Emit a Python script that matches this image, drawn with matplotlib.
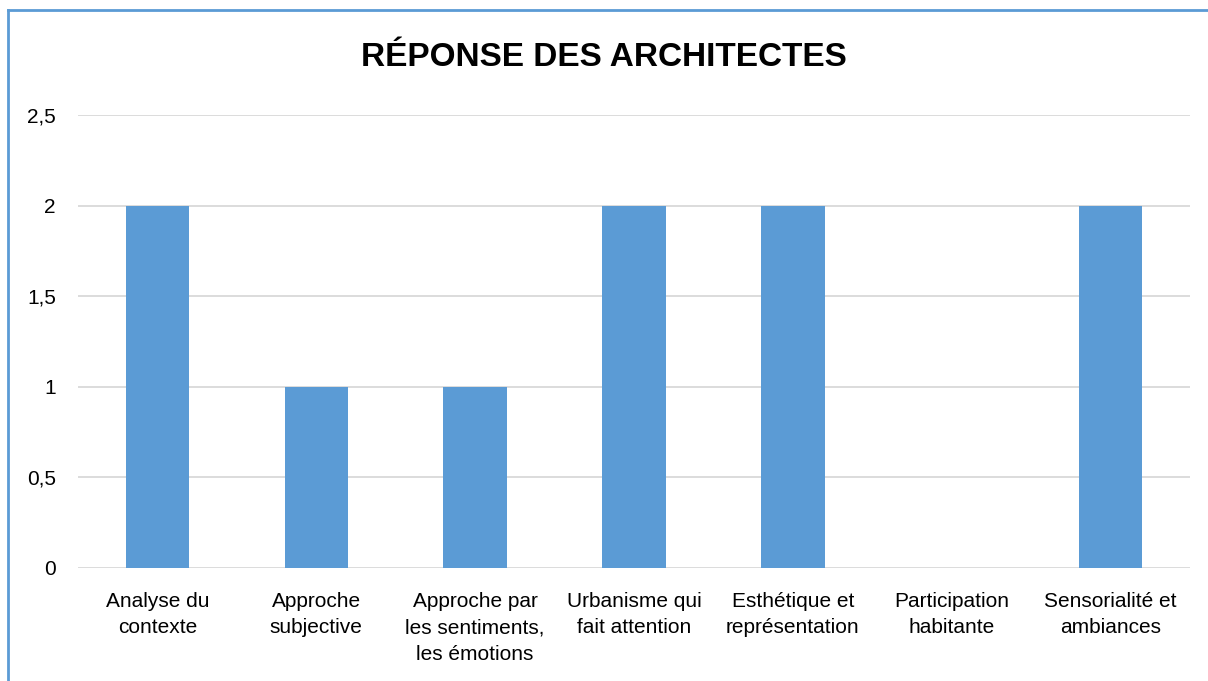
import numpy as np
import matplotlib.pyplot as plt
from matplotlib.lines import Line2D

categories = ["Analyse du\ncontexte", "Approche\nsubjective",
              "Approche par\nles sentiments,\nles émotions",
              "Urbanisme qui\nfait attention", "Esthétique et\nreprésentation",
              "Participation\nhabitante", "Sensorialité et\nambiances"]
values = [2, 1, 1, 2, 2, 0, 2]
yticks = [0, 0.5, 1, 1.5, 2, 2.5]
ylabels = ["0", "0,5", "1", "1,5", "2", "2,5"]

plt.rcParams['font.family'] = ['Liberation Sans', 'DejaVu Sans']

fig = plt.figure(figsize=(12.08, 6.81), dpi=100)
ax = fig.add_axes([0.0646, 0.166, 0.9204, 0.665])

x = np.arange(len(categories))
ax.bar(x, values, width=0.40, color='#5B9BD5', zorder=3)
ax.set_xlim(-0.5, len(categories) - 0.5)
ax.set_ylim(0, 2.5)
ax.set_yticks(yticks)
ax.set_yticklabels(ylabels, fontsize=15)
ax.set_xticks(x)
ax.set_xticklabels(categories, fontsize=15, linespacing=1.5)
ax.tick_params(length=0)
ax.tick_params(axis='y', pad=16)
ax.tick_params(axis='x', pad=17)
ax.grid(axis='y', color='#d9d9d9', lw=1.3, zorder=0)
for s in ax.spines.values():
    s.set_visible(False)

fig.text(0.5, 1 - 57 / 681, "RÉPONSE DES ARCHITECTES", ha='center', va='center',
         fontsize=24, fontweight='bold')

# frame lines at left and top
fig.add_artist(Line2D([8 / 1208, 8 / 1208], [0, 1 - 10 / 681], color='#5B9BD5', lw=2,
                      transform=fig.transFigure))
fig.add_artist(Line2D([8 / 1208, 1], [1 - 10 / 681, 1 - 10 / 681], color='#5B9BD5', lw=2,
                      transform=fig.transFigure))

fig.savefig("out.png", dpi=100)
